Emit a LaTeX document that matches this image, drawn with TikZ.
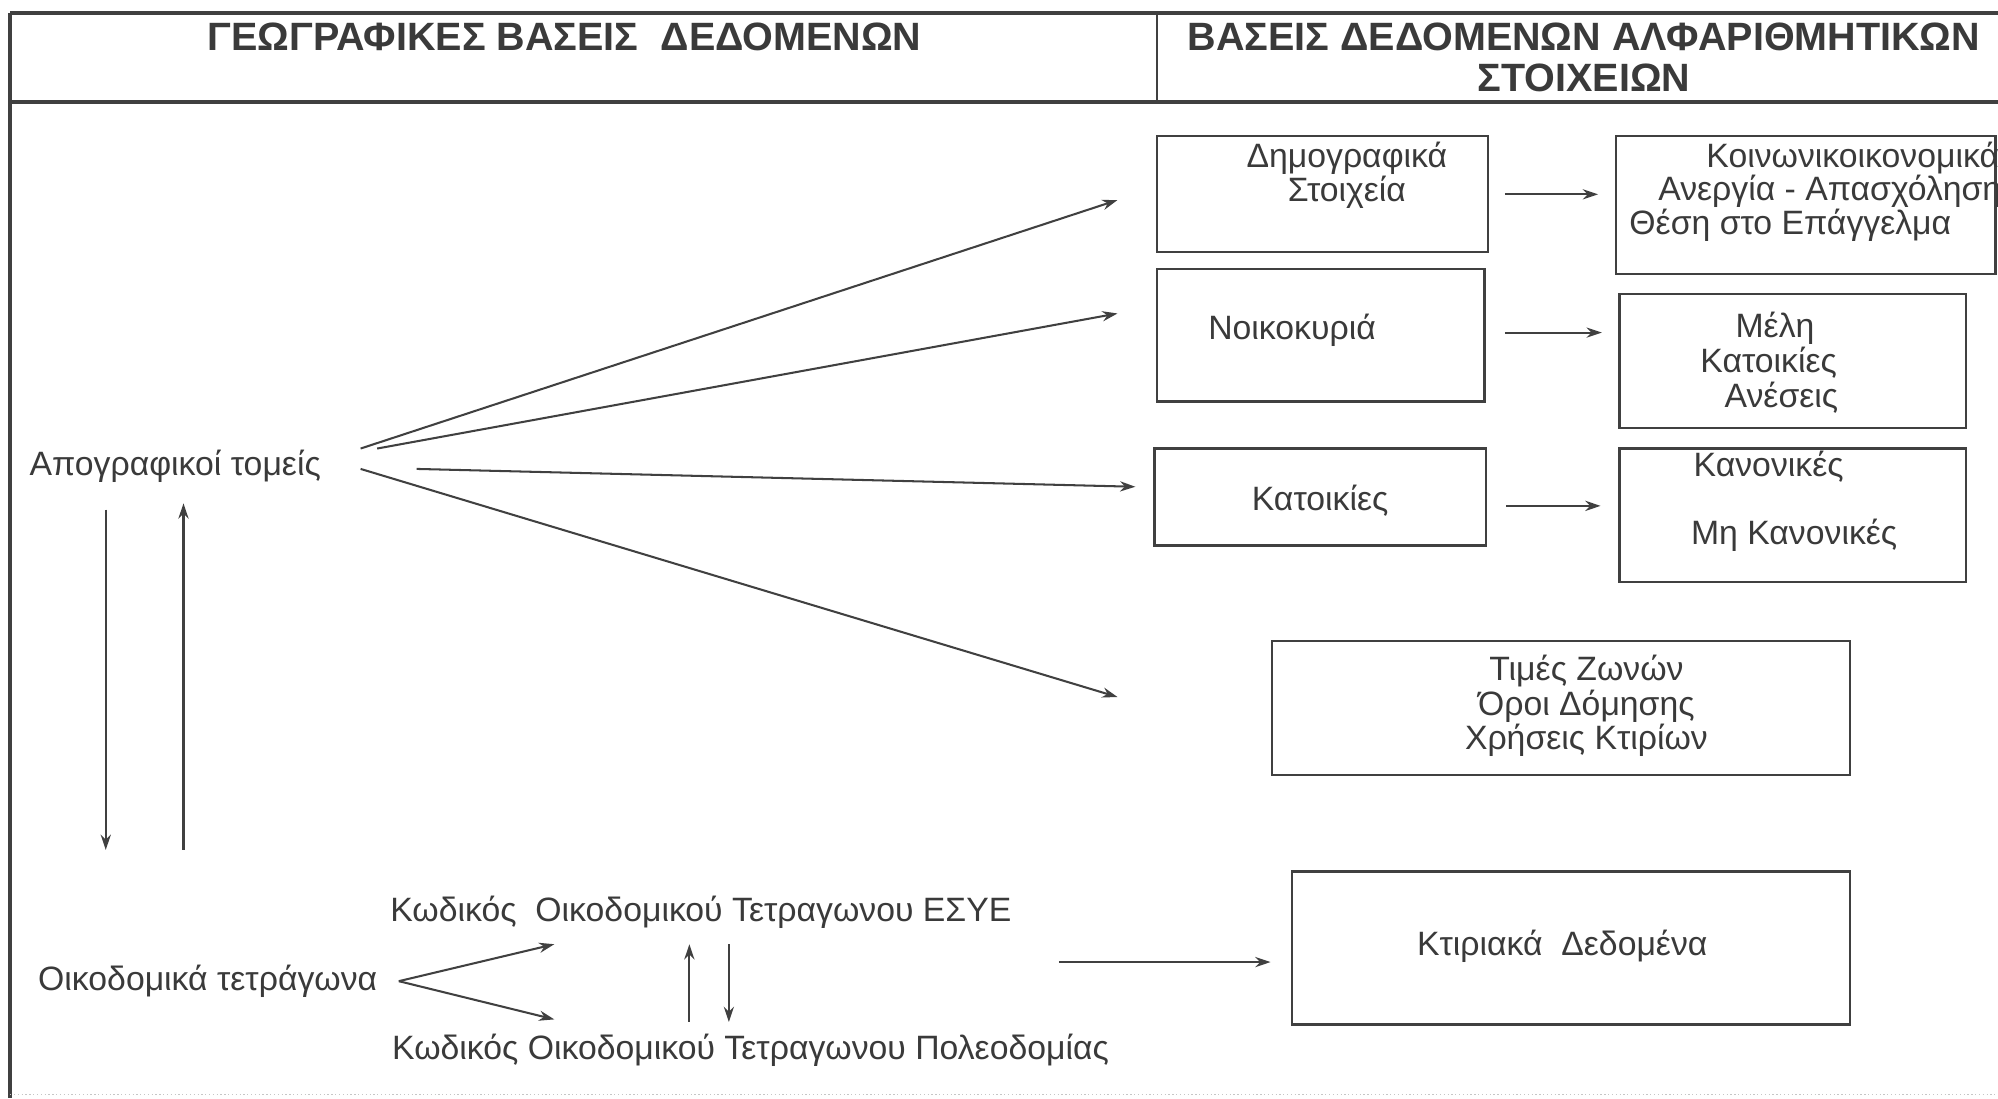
\documentclass[tikz,border=0pt]{standalone}
\usepackage{fontspec}
\setmainfont{Liberation Sans}
\usetikzlibrary{arrows.meta,calc}
\definecolor{linec}{HTML}{404040}
\definecolor{txtc}{HTML}{3A3A3A}
\begin{document}
\begin{tikzpicture}[x=1pt,y=-1pt,
  frame/.style={draw=linec,line width=3.2pt},
  boxx/.style={draw=linec,line width=1.8pt,inner sep=0pt,fill=none},
  txt/.style={inner sep=0pt,text=txtc,align=center,font=\fontsize{26.5}{27}\selectfont},
  head/.style={inner sep=0pt,text=txtc,align=center,font=\fontsize{31}{32}\selectfont\bfseries},
  arr/.style={draw=linec,line width=1.6pt,-{Stealth[length=12pt,width=8pt]}}]
\useasboundingbox[fill=white] (0,0) rectangle (1568,862);
% frame
\draw[frame] (8,10) -- (1568,10);
\draw[frame] (8,80) -- (1568,80);
\draw[frame] (8,10) -- (8,862);
\draw[draw=linec,line width=1.8pt] (908,10) -- (908,80);
\draw[draw=gray!45,line width=1pt,dotted] (8,859) -- (1568,859);
% headers
\node[head] (h1) at (443,29) {ΓΕΩΓΡΑΦΙΚΕΣ ΒΑΣΕΙΣ\ \ ΔΕΔΟΜΕΝΩΝ};
\node[head] (h2) at (1243,29) {ΒΑΣΕΙΣ ΔΕΔΟΜΕΝΩΝ ΑΛΦΑΡΙΘΜΗΤΙΚΩΝ};
\node[head] (h3) at (1243,61) {ΣΤΟΙΧΕΙΩΝ};
% boxes
\node[boxx,minimum width=260pt,minimum height=91pt] (demo) at (1038,152.5) {};
\node[boxx,minimum width=298pt,minimum height=108pt] (koin) at (1417,161) {};
\node[boxx,minimum width=257pt,minimum height=104pt] (noik) at (1036.5,263) {};
\node[boxx,minimum width=272pt,minimum height=105pt] (meli) at (1407,283.5) {};
\node[boxx,minimum width=260pt,minimum height=76pt] (katoik) at (1036,390) {};
\node[boxx,minimum width=272pt,minimum height=105pt] (kanon) at (1407,404.5) {};
\node[boxx,minimum width=454pt,minimum height=105pt] (times) at (1225,555.5) {};
\node[boxx,minimum width=438pt,minimum height=120pt] (ktir) at (1233,744) {};
% box texts
\node[txt] (tdemo) at (1057,137.5) {Δημογραφικά\\Στοιχεία};
\node[txt] (tkoinA) at (1454,124) {Κοινωνικοικονομικά};
\node[txt] (tkoinB) at (1436,150) {Ανεργία - Απασχόληση};
\node[txt] (tkoinC) at (1405,177) {Θέση στο Επάγγελμα};
\node[txt] (tnoik) at (1014,259) {Νοικοκυριά};
\node[txt] (tmeliA) at (1393,258) {Μέλη};
\node[txt] (tmeliB) at (1388,285) {Κατοικίες};
\node[txt] (tmeliC) at (1398,312) {Ανέσεις};
\node[txt] (tkatoik) at (1036,393) {Κατοικίες};
\node[txt] (tkanA) at (1388,366) {Κανονικές};
\node[txt] (tkanB) at (1408,420) {Μη Κανονικές};
\node[txt] (ttimes) at (1245,554) {Τιμές Ζωνών\\Όροι Δόμησης\\Χρήσεις Κτιρίων};
\node[txt] (tktir) at (1226,743) {Κτιριακά\ \ Δεδομένα};
% left texts
\node[txt] (apog) at (137.5,366) {Απογραφικοί τομείς};
\node[txt] (oikod) at (163,770) {Οικοδομικά τετράγωνα};
\node[txt] (kesye) at (550,716) {Κωδικός\ \ Οικοδομικού Τετραγωνου ΕΣΥΕ};
\node[txt] (kpol) at (589,824) {Κωδικός Οικοδομικού Τετραγωνου Πολεοδομίας};
% fan from Απογραφικοί τομείς
\coordinate (f1s) at (283,352); \coordinate (f1e) at (877,157);
\coordinate (f2s) at (296,352); \coordinate (f2e) at (877,246);
\coordinate (f3s) at (327,368); \coordinate (f3e) at (891,382);
\coordinate (f4s) at (283,368); \coordinate (f4e) at (877,547);
\draw[arr] (f1s) -- (f1e);
\draw[arr] (f2s) -- (f2e);
\draw[arr] (f3s) -- (f3e);
\draw[arr] (f4s) -- (f4e);
% box to box arrows
\draw[arr] ([xshift=12pt]demo.east) -- ([xshift=-13pt]koin.west |- demo.east);
\draw[arr] ([xshift=15pt]noik.east |- 0,261) -- ([xshift=-13pt]meli.west |- 0,261);
\draw[arr] ([xshift=15pt]katoik.east |- 0,397) -- ([xshift=-14pt]kanon.west |- 0,397);
% vertical arrows on the left
\coordinate (v1s) at (83,400); \coordinate (v1e) at (83,667);
\coordinate (v2s) at (144,667); \coordinate (v2e) at (144,395);
\draw[arr] (v1s) -- (v1e);
\draw[arr] (v2s) -- (v2e);
% Οικοδομικά τετράγωνα fork
\coordinate (fk) at (313,770);
\coordinate (fkA) at (435,741);
\coordinate (fkB) at (435,800);
\draw[arr] (fk) -- (fkA);
\draw[arr] (fk) -- (fkB);
% between codes
\coordinate (c1s) at (541,802); \coordinate (c1e) at (541,741);
\coordinate (c2s) at (572,741); \coordinate (c2e) at (572,802);
\draw[arr] (c1s) -- (c1e);
\draw[arr] (c2s) -- (c2e);
% to Κτιριακά
\coordinate (kt) at (831,755);
\draw[arr] (kt) -- ([xshift=-16pt]ktir.west |- kt);
\end{tikzpicture}
\end{document}
